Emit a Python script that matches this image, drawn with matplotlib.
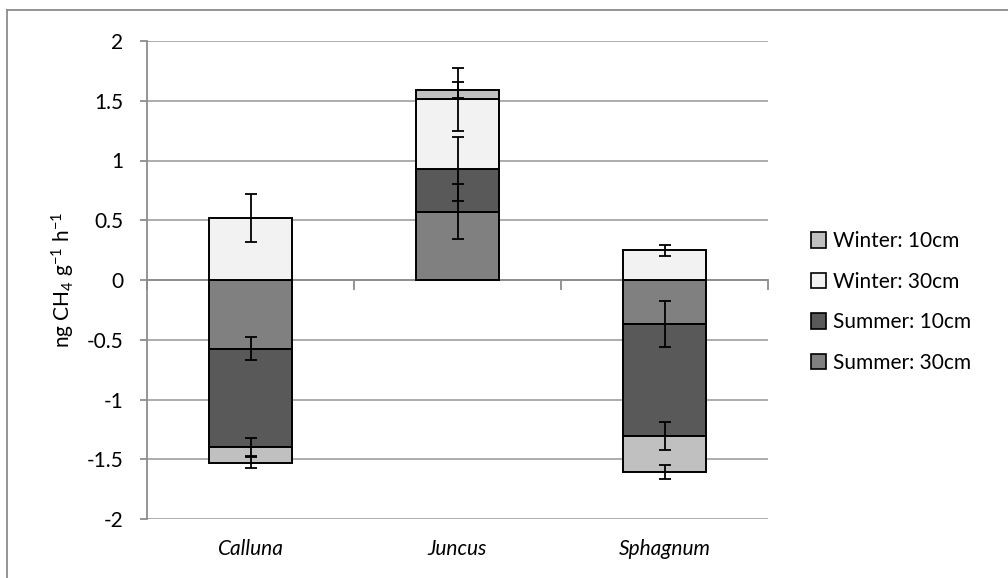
import numpy as np
import matplotlib.pyplot as plt
from matplotlib.lines import Line2D
from matplotlib.patches import Patch

plt.rcParams['font.family'] = ['Lato', 'DejaVu Sans']
plt.rcParams['mathtext.fontset'] = 'custom'
plt.rcParams['mathtext.rm'] = 'Lato'
plt.rcParams['mathtext.it'] = 'Lato:italic'

species = ['Calluna', 'Juncus', 'Sphagnum']

# stacked in this order, bottom up (positives and negatives stacked apart)
series = ['Summer: 30cm', 'Summer: 10cm', 'Winter: 30cm', 'Winter: 10cm']
summer_30 = [-0.575, 0.572, -0.369]
summer_10 = [-0.82, 0.356, -0.937]
winter_30 = [0.517, 0.583, 0.25]
winter_10 = [-0.133, 0.078, -0.30]

summer_30_err = [0.095, 0.228, 0.19]
summer_10_err = [0.077, 0.267, 0.115]
winter_30_err = [0.20, 0.26, 0.046]
winter_10_err = [0.045, 0.064, 0.06]

colors = ['#808080', '#595959', '#f2f2f2', '#c0c0c0']

values = [summer_30, summer_10, winter_30, winter_10]
errors = [summer_30_err, summer_10_err, winter_30_err, winter_10_err]

fs = 15

fig = plt.figure(figsize=(10.08, 5.78), dpi=100)
ax = fig.add_axes([147 / 1008, 1 - 519 / 578, (768 - 147) / 1008, (519 - 41) / 578])

x = np.arange(len(species))
pos_base = np.zeros(len(species))
neg_base = np.zeros(len(species))
for vals, errs, col, name in zip(values, errors, colors, series):
    vals = np.array(vals)
    base = np.where(vals >= 0, pos_base, neg_base)
    ax.bar(x, vals, 0.4, bottom=base, color=col, edgecolor='black',
           linewidth=1.4, zorder=2, label=name)
    ends = base + vals
    ax.errorbar(x, ends, yerr=errs, fmt='none', ecolor='black',
                elinewidth=1.3, capsize=4.3, capthick=1.3, zorder=3)
    pos_base = np.where(vals >= 0, ends, pos_base)
    neg_base = np.where(vals < 0, ends, neg_base)

ax.set_xlim(-0.5, 2.5)
ax.set_ylim(-2, 2)
ax.set_yticks(np.arange(-2, 2.01, 0.5))
ax.set_yticklabels(['-2', '-1.5', '-1', '-0.5', '0', '0.5', '1', '1.5', '2'])
ax.yaxis.grid(True, color='#a6a6a6', linewidth=1.3, zorder=0)
ax.set_axisbelow(True)

for s in ['top', 'right']:
    ax.spines[s].set_visible(False)
ax.spines['left'].set_color('#8c8c8c')
ax.spines['left'].set_linewidth(1.3)
ax.spines['bottom'].set_position(('data', 0))
ax.spines['bottom'].set_color('#8c8c8c')
ax.spines['bottom'].set_linewidth(1.3)
ax.spines['bottom'].set_zorder(1)

ax.set_xticks([])
ax.set_xticks(np.arange(-0.5, 2.6, 1), minor=True)
ax.tick_params(axis='x', which='minor', length=7, width=1.3, color='#8c8c8c',
               direction='out', labelbottom=False)
ax.tick_params(axis='y', length=5, width=1.3, color='#8c8c8c', labelsize=fs,
               pad=12)

for xi, name in zip(x, species):
    ax.text(xi, -0.062, name, transform=ax.get_xaxis_transform(),
            ha='center', va='center', fontsize=fs, style='italic')

ax.set_ylabel(r'ng CH$_4$ g$^{-1}$ h$^{-1}$', fontsize=fs, labelpad=7)

handles = [Patch(facecolor=c, edgecolor='black', linewidth=1.2)
           for c in colors][::-1]
fig.legend(handles, series[::-1], loc='center left',
           bbox_to_anchor=(792 / 1008, 1 - 302 / 578), frameon=False,
           fontsize=fs, labelspacing=0.98, handlelength=0.75,
           handleheight=0.75, handletextpad=0.3)

# outer chart frame
fig.add_artist(Line2D([7 / 1008, 7 / 1008], [0, 1 - 10 / 578],
                      color='#8c8c8c', linewidth=1.3))
fig.add_artist(Line2D([7 / 1008, 1], [1 - 10 / 578, 1 - 10 / 578],
                      color='#8c8c8c', linewidth=1.3))

fig.savefig('out.png', dpi=100)
